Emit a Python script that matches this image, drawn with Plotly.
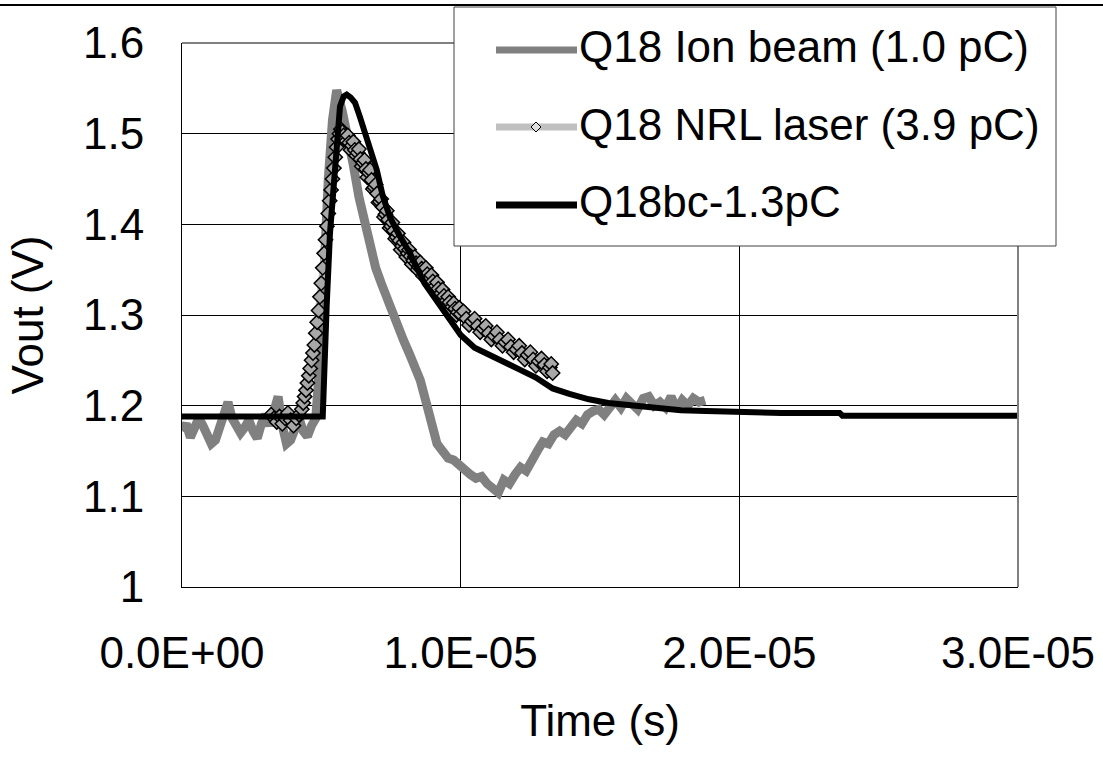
import plotly.graph_objects as go

# ---------------- data (time in microseconds, voltage in V) ----------------
ion_t = [0.0, 0.15, 0.3, 0.45, 0.6, 0.75, 0.9, 1.05, 1.2, 1.35, 1.5, 1.65, 1.8, 1.95,
         2.1, 2.25, 2.4, 2.55, 2.7, 2.85, 3.0, 3.15, 3.3, 3.45, 3.6, 3.75, 3.9, 4.05,
         4.2, 4.35, 4.5, 4.65, 4.8, 4.95, 5.1, 5.25, 5.4, 5.55, 5.75, 5.95, 6.15, 6.35,
         6.55, 6.75, 6.95, 7.15, 7.35, 7.55, 7.75, 7.95, 8.15, 8.35, 8.55, 8.75, 8.95,
         9.15, 9.35, 9.55, 9.75, 9.95, 10.15, 10.35, 10.55, 10.75, 10.95, 11.15, 11.35,
         11.55, 11.75, 11.95, 12.15, 12.35, 12.55, 12.75, 12.95, 13.15, 13.35, 13.55,
         13.75, 13.95, 14.15, 14.35, 14.55, 14.75, 14.95, 15.15, 15.35, 15.55, 15.75,
         15.95, 16.15, 16.35, 16.55, 16.75, 16.95, 17.15, 17.35, 17.55, 17.75, 17.95,
         18.15, 18.35, 18.55, 18.77]
ion_v = [1.172, 1.180, 1.165, 1.178, 1.186, 1.178, 1.168, 1.158, 1.162, 1.176, 1.196,
         1.204, 1.186, 1.178, 1.170, 1.176, 1.184, 1.172, 1.164, 1.180, 1.190, 1.178,
         1.196, 1.210, 1.178, 1.158, 1.162, 1.176, 1.186, 1.172, 1.166, 1.178, 1.186,
         1.250, 1.360, 1.450, 1.515, 1.548, 1.525, 1.500, 1.465, 1.430, 1.402, 1.375,
         1.352, 1.335, 1.318, 1.302, 1.288, 1.272, 1.258, 1.245, 1.228, 1.205, 1.178,
         1.158, 1.150, 1.142, 1.140, 1.134, 1.130, 1.124, 1.120, 1.122, 1.114, 1.110,
         1.104, 1.118, 1.114, 1.124, 1.132, 1.128, 1.142, 1.150, 1.160, 1.158, 1.168,
         1.172, 1.168, 1.178, 1.184, 1.180, 1.190, 1.194, 1.196, 1.190, 1.200, 1.206,
         1.198, 1.208, 1.202, 1.196, 1.208, 1.210, 1.200, 1.204, 1.198, 1.210, 1.196,
         1.206, 1.200, 1.208, 1.204, 1.206]

nrl_t = [3.2, 3.3, 3.4, 3.5, 3.6, 3.7, 3.8, 3.9, 4.0, 4.1, 4.2, 4.3, 4.35, 4.4, 4.45,
         4.5, 4.55, 4.6, 4.65, 4.7, 4.75, 4.8, 4.85, 4.9, 4.95, 5.0, 5.05, 5.1, 5.15,
         5.2, 5.25, 5.3, 5.35, 5.4, 5.45, 5.5, 5.55, 5.6, 5.65, 5.7, 5.75, 5.8, 5.85,
         5.9, 5.95, 6.0, 6.05, 6.1, 6.15, 6.2, 6.25, 6.3, 6.35, 6.4, 6.45, 6.5, 6.55,
         6.6, 6.65, 6.7, 6.75, 6.8, 6.85, 6.9, 6.95, 7.0, 7.05, 7.1, 7.15, 7.2, 7.25,
         7.3, 7.35, 7.4, 7.45, 7.5, 7.55, 7.6, 7.65, 7.7, 7.75, 7.8, 7.85, 7.9, 7.95,
         8.0, 8.05, 8.1, 8.15, 8.2, 8.25, 8.3, 8.35, 8.4, 8.45, 8.5, 8.55, 8.6, 8.65,
         8.7, 8.75, 8.8, 8.85, 8.9, 8.95, 9.0, 9.05, 9.1, 9.15, 9.2, 9.25, 9.3, 9.35,
         9.4, 9.45, 9.5, 9.55, 9.6, 9.65, 9.7, 9.75, 9.8, 9.85, 9.9, 9.95, 10.0, 10.1,
         10.2, 10.3, 10.4, 10.5, 10.6, 10.7, 10.8, 10.9, 11.0, 11.1, 11.2, 11.3, 11.4,
         11.5, 11.6, 11.7, 11.8, 11.9, 12.0, 12.1, 12.2, 12.3, 12.4, 12.5, 12.6, 12.7,
         12.8, 12.9, 13.0, 13.1, 13.2, 13.25, 13.3]
nrl_v = [1.190, 1.186, 1.182, 1.188, 1.180, 1.186, 1.192, 1.184, 1.178, 1.186, 1.190,
         1.196, 1.203, 1.210, 1.217, 1.225, 1.233, 1.241, 1.250, 1.258, 1.267, 1.280,
         1.292, 1.305, 1.320, 1.335, 1.352, 1.368, 1.383, 1.398, 1.412, 1.426, 1.438,
         1.450, 1.462, 1.474, 1.485, 1.494, 1.500, 1.505, 1.502, 1.498, 1.494,
         1.492, 1.498, 1.490, 1.482, 1.487, 1.491, 1.482, 1.476, 1.479, 1.483, 1.472,
         1.464, 1.468, 1.471, 1.461, 1.452, 1.457, 1.460, 1.449, 1.439, 1.441, 1.444,
         1.434, 1.424, 1.425, 1.428, 1.419, 1.408, 1.411, 1.415, 1.405, 1.396, 1.398,
         1.402, 1.393, 1.384, 1.386, 1.390, 1.382, 1.372, 1.376, 1.380, 1.373, 1.364,
         1.368, 1.372, 1.365, 1.356, 1.360, 1.364, 1.357, 1.350, 1.353, 1.358, 1.351,
         1.343, 1.347, 1.352, 1.345, 1.337, 1.340, 1.344, 1.337, 1.329, 1.332, 1.336,
         1.329, 1.321, 1.324, 1.328, 1.321, 1.313, 1.316, 1.320, 1.314, 1.306, 1.309,
         1.313, 1.307, 1.300, 1.303, 1.308, 1.301, 1.304, 1.296, 1.289, 1.293, 1.296,
         1.288, 1.281, 1.285, 1.288, 1.280, 1.273, 1.277, 1.281, 1.273, 1.266, 1.270,
         1.273, 1.265, 1.259, 1.262, 1.266, 1.258, 1.251, 1.256, 1.259, 1.251, 1.244,
         1.249, 1.252, 1.245, 1.238, 1.242, 1.246, 1.236]

bc_t = [0.0, 2.0, 4.0, 5.05, 5.08, 5.12, 5.19, 5.31, 5.43, 5.55, 5.67, 5.8, 5.91, 6.05,
        6.21, 6.39, 6.63, 6.86, 6.99, 7.2, 7.46, 7.8, 8.18, 8.7, 9.14, 9.5, 10.0, 10.5,
        11.0, 11.5, 12.1, 12.7, 13.3, 13.9, 14.6, 15.3, 16.2, 17.0, 17.9, 18.8, 20.0,
        21.5, 23.6, 23.7, 30.0]
bc_v = [1.188, 1.188, 1.188, 1.188, 1.213, 1.280, 1.309, 1.390, 1.441, 1.489, 1.530,
        1.541, 1.543, 1.540, 1.534, 1.518, 1.496, 1.471, 1.460, 1.432, 1.408, 1.388,
        1.368, 1.335, 1.316, 1.298, 1.278, 1.264, 1.256, 1.249, 1.240, 1.231, 1.219,
        1.213, 1.207, 1.203, 1.200, 1.197, 1.195, 1.194, 1.193, 1.192, 1.192, 1.189,
        1.189]

series_names = ["Q18 Ion beam (1.0 pC)", "Q18 NRL laser (3.9 pC)", "Q18bc-1.3pC"]
x_tickvals = [0, 1e-5, 2e-5, 3e-5]
x_ticktext = ["0.0E+00", "1.0E-05", "2.0E-05", "3.0E-05"]
y_tickvals = [1.0, 1.1, 1.2, 1.3, 1.4, 1.5, 1.6]
y_ticktext = ["1", "1.1", "1.2", "1.3", "1.4", "1.5", "1.6"]

US = 1e-6
FONT = "Liberation Sans, Arial, sans-serif"

fig = go.Figure()
fig.add_trace(go.Scatter(x=[t * US for t in ion_t], y=ion_v, mode="lines",
                         name=series_names[0], line=dict(color="#808080", width=9),
                         showlegend=False))
fig.add_trace(go.Scatter(x=[t * US for t in nrl_t], y=nrl_v, mode="lines+markers",
                         name=series_names[1], line=dict(color="#C0C0C0", width=6),
                         marker=dict(symbol="diamond", size=11, color="#A8A8A8",
                                     line=dict(color="black", width=1.5)),
                         showlegend=False))
fig.add_trace(go.Scatter(x=[t * US for t in bc_t], y=bc_v, mode="lines",
                         name=series_names[2], line=dict(color="black", width=6),
                         showlegend=False))

# plot geometry in pixels
L, R, T, B = 182, 1018, 43, 587
W, H = R - L, B - T


def px(xp):
    return (xp - L) / W


def py(yp):
    return (B - yp) / H


shapes = [
    # top rule of the picture
    dict(type="line", xref="paper", yref="paper", x0=px(0), x1=px(1103), y0=py(5), y1=py(5),
         line=dict(color="black", width=2)),
    # plot-area frame (top and right)
    dict(type="line", xref="paper", yref="paper", x0=0, x1=1, y0=1, y1=1,
         line=dict(color="#808080", width=2)),
    dict(type="line", xref="paper", yref="paper", x0=1, x1=1, y0=0, y1=1,
         line=dict(color="#808080", width=2)),
    # legend box
    dict(type="rect", xref="paper", yref="paper", x0=px(454), x1=px(1056), y0=py(246), y1=py(7),
         line=dict(color="#404040", width=1), fillcolor="white", layer="above"),
]
leg_y = [50, 127, 205]
leg_colors = ["#808080", "#C0C0C0", "black"]
for yy, c in zip(leg_y, leg_colors):
    shapes.append(dict(type="line", xref="paper", yref="paper", x0=px(496), x1=px(577),
                       y0=py(yy), y1=py(yy), line=dict(color=c, width=7), layer="above"))
# diamond marker in legend
cx, cy, hw = 536, 127, 5
shapes.append(dict(type="path", xref="paper", yref="paper", layer="above",
                   path=f"M {px(cx)},{py(cy - hw)} L {px(cx + hw)},{py(cy)} L {px(cx)},{py(cy + hw)} L {px(cx - hw)},{py(cy)} Z",
                   fillcolor="#E0E0E0", line=dict(color="black", width=1)))

annotations = []
for yy, name in zip(leg_y, series_names):
    annotations.append(dict(xref="paper", yref="paper", x=px(577), y=py(yy - 3), text=name,
                            showarrow=False, xanchor="left", yanchor="middle",
                            font=dict(family=FONT, size=44, color="black")))

fig.update_layout(
    width=1103, height=757,
    margin=dict(l=L, r=1103 - R, t=T, b=757 - B, autoexpand=False),
    paper_bgcolor="white", plot_bgcolor="white",
    font=dict(family=FONT, size=44, color="black"),
    shapes=shapes, annotations=annotations,
    showlegend=False,
)
fig.update_xaxes(range=[0, 3e-5], tickvals=x_tickvals, ticktext=x_ticktext,
                 showgrid=True, gridcolor="black", gridwidth=1,
                 showline=True, linecolor="black", linewidth=1, zeroline=False,
                 ticks="", ticklabelstandoff=27, automargin=False,
                 tickfont=dict(family=FONT, size=44, color="black"),
                 title=dict(text="Time (s)", font=dict(family=FONT, size=44, color="black"),
                            standoff=29))
fig.update_yaxes(range=[1.0, 1.6], tickvals=y_tickvals, ticktext=y_ticktext,
                 showgrid=True, gridcolor="black", gridwidth=1,
                 showline=True, linecolor="black", linewidth=1, zeroline=False,
                 ticks="inside", ticklen=5, tickcolor="black", ticklabelstandoff=28,
                 automargin=False,
                 tickfont=dict(family=FONT, size=44, color="black"),
                 title=dict(text="Vout (V)", font=dict(family=FONT, size=44, color="black"),
                            standoff=25))

fig.write_html("out.html", config={"displayModeBar": False},
               post_script="document.body.style.margin='0';document.body.style.padding='0';")
